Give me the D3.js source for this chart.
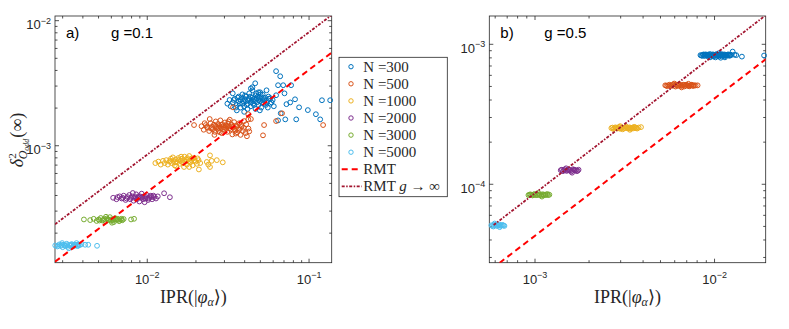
<!doctype html>
<html lang="en">
<head>
<meta charset="UTF-8">
<title>IPR vs delta</title>
<script src="https://d3js.org/d3.v7.min.js"></script>
<style>
  body { margin: 0; background: #fff; }
  .axis path { display: none; }
  .axis line { stroke: #262626; stroke-width: 0.8px; }
  .axis text { fill: #262626; font-family: "Liberation Sans", Arial, sans-serif; font-size: 13px; }
  .serif { font-family: "Liberation Serif", "DejaVu Serif", serif; fill: #262626; }
  .sans { font-family: "Liberation Sans", Arial, sans-serif; fill: #000; }
</style>
</head>
<body>
<div class="canvas"></div>
<script>
  // legend / series
  const seriesNames = ['N =300', 'N =500', 'N =1000', 'N =2000', 'N =3000', 'N =5000'];
  const seriesColors = ['#0072BD', '#D95319', '#EDB120', '#7E2F8E', '#77AC30', '#4DBEEE'];

  // panel a) g = 0.1 : [IPR, delta^2]
  const n300a = [
    [0.033,2.05e-3],[0.034,2.2e-3],[0.035,2.35e-3],[0.036,2.1e-3],[0.037,2.25e-3],[0.037,2.45e-3],[0.038,2.0e-3],
    [0.038,2.3e-3],[0.039,2.15e-3],[0.039,2.55e-3],[0.040,2.35e-3],[0.040,2.05e-3],[0.041,2.25e-3],[0.041,2.45e-3],
    [0.042,2.15e-3],[0.042,1.95e-3],[0.043,2.35e-3],[0.043,2.6e-3],[0.044,2.2e-3],[0.044,2.05e-3],[0.045,2.4e-3],
    [0.045,2.75e-3],[0.046,2.25e-3],[0.046,2.1e-3],[0.047,2.5e-3],[0.047,1.95e-3],[0.048,2.35e-3],[0.048,2.2e-3],
    [0.049,2.65e-3],[0.049,2.1e-3],[0.050,2.4e-3],[0.050,2.25e-3],[0.051,2.0e-3],[0.052,2.3e-3],[0.052,2.55e-3],
    [0.053,2.15e-3],[0.054,2.4e-3],[0.055,2.2e-3],[0.056,2.0e-3],[0.057,2.35e-3],[0.058,2.15e-3],[0.060,2.3e-3],
    [0.061,2.05e-3],[0.036,1.9e-3],[0.040,1.85e-3],[0.034,2.6e-3],[0.050,1.9e-3],[0.044,2.85e-3],
    [0.0345,2.3e-3],[0.0355,2.0e-3],[0.0365,2.4e-3],[0.0375,2.15e-3],[0.0385,2.4e-3],[0.0395,2.25e-3],
    [0.0405,2.5e-3],[0.0415,2.1e-3],[0.0425,2.3e-3],[0.0435,2.45e-3],[0.0445,2.3e-3],[0.0455,2.15e-3],
    [0.0465,2.35e-3],[0.0475,2.6e-3],[0.0485,2.45e-3],[0.0495,2.3e-3],[0.0505,2.55e-3],[0.0515,2.2e-3],
    [0.0525,2.4e-3],[0.0535,2.3e-3],[0.0545,2.1e-3],[0.0565,2.45e-3],[0.059,2.2e-3],[0.0315,2.15e-3],[0.0325,2.3e-3],
    [0.063,3.91e-3],[0.0668,3.56e-3],[0.0468,3.13e-3],[0.045,2.91e-3],[0.0648,3.02e-3],[0.0697,3.02e-3],
    [0.078,3.02e-3],[0.0502,2.65e-3],[0.0825,2.33e-3],[0.0874,2.01e-3],[0.099,1.91e-3],[0.111,1.77e-3],
    [0.118,1.61e-3],[0.121,2.29e-3],[0.136,2.29e-3],[0.0718,1.61e-3],[0.0839,1.61e-3],[0.0673,1.80e-3],
    [0.0648,1.58e-3],[0.073,2.13e-3],[0.077,2.2e-3],[0.063,2.51e-3],[0.058,2.38e-3],[0.055,2.75e-3],[0.071,2.6e-3]
  ];
  const n500a = [
    [0.0218,1.42e-3],[0.0225,1.33e-3],[0.0232,1.45e-3],[0.0238,1.38e-3],[0.0243,1.30e-3],[0.0248,1.50e-3],
    [0.0252,1.40e-3],[0.0256,1.34e-3],[0.0260,1.46e-3],[0.0264,1.28e-3],[0.0267,1.55e-3],[0.0270,1.40e-3],
    [0.0273,1.35e-3],[0.0276,1.48e-3],[0.0279,1.30e-3],[0.0282,1.43e-3],[0.0285,1.58e-3],[0.0288,1.37e-3],
    [0.0291,1.25e-3],[0.0294,1.47e-3],[0.0297,1.40e-3],[0.0300,1.33e-3],[0.0304,1.52e-3],[0.0308,1.44e-3],
    [0.0311,1.36e-3],[0.0315,1.28e-3],[0.0318,1.49e-3],[0.0322,1.41e-3],[0.0326,1.60e-3],[0.0330,1.34e-3],
    [0.0334,1.46e-3],[0.0338,1.22e-3],[0.0342,1.39e-3],[0.0347,1.53e-3],[0.0352,1.31e-3],[0.0357,1.44e-3],
    [0.0362,1.27e-3],[0.0367,1.37e-3],[0.0373,1.50e-3],[0.0380,1.21e-3],[0.0386,1.42e-3],[0.0393,1.30e-3],
    [0.0400,1.56e-3],[0.0408,1.25e-3],[0.0416,1.18e-3],[0.0425,1.36e-3],[0.0440,1.62e-3],[0.0262,1.21e-3],
    [0.0245,1.62e-3],
    [0.0235,1.4e-3],[0.0250,1.36e-3],[0.0265,1.42e-3],[0.0278,1.38e-3],[0.0290,1.45e-3],[0.0302,1.38e-3],
    [0.0313,1.42e-3],[0.0325,1.37e-3],[0.0336,1.41e-3],[0.0348,1.35e-3],[0.0360,1.40e-3],[0.0372,1.33e-3],
    [0.0384,1.45e-3],[0.0397,1.38e-3],[0.0412,1.47e-3],[0.0228,1.5e-3],[0.0283,1.27e-3],[0.0320,1.55e-3],
    [0.0355,1.24e-3],[0.0430,1.29e-3],
    [0.0196,1.45e-3],[0.0341,2.01e-3],[0.0424,1.77e-3],[0.0424,1.61e-3],[0.0531,1.45e-3],[0.0523,1.20e-3],
    [0.0630,1.56e-3],[0.0686,1.80e-3],[0.123,1.45e-3]
  ];
  const n1000a = [
    [0.0113,7.2e-4],[0.0118,7.4e-4],[0.0122,7.0e-4],[0.0126,7.5e-4],[0.0129,7.2e-4],[0.0132,7.6e-4],
    [0.0135,7.0e-4],[0.0138,7.4e-4],[0.0141,7.8e-4],[0.0143,7.2e-4],[0.0146,7.5e-4],[0.0149,6.9e-4],
    [0.0151,7.7e-4],[0.0154,7.3e-4],[0.0157,7.9e-4],[0.0160,7.1e-4],[0.0162,7.5e-4],[0.0165,7.8e-4],
    [0.0168,7.2e-4],[0.0171,8.1e-4],[0.0174,7.4e-4],[0.0177,7.0e-4],[0.0180,7.7e-4],[0.0183,8.2e-4],
    [0.0186,7.3e-4],[0.0189,7.6e-4],[0.0192,6.9e-4],[0.0196,7.9e-4],[0.0200,7.4e-4],[0.0204,7.1e-4],
    [0.0209,7.6e-4],[0.0214,7.2e-4],[0.0152,6.8e-4],[0.0170,6.7e-4],[0.0145,8.0e-4],
    [0.0140,7.5e-4],[0.0150,7.3e-4],[0.0158,7.6e-4],[0.0166,7.3e-4],[0.0175,7.7e-4],[0.0182,7.45e-4],
    [0.0190,7.85e-4],[0.0198,7.55e-4],[0.0206,7.85e-4],[0.0163,8.1e-4],[0.0178,7.9e-4],
    [0.0246,8.3e-4],[0.0252,7.5e-4],[0.0235,7.35e-4],[0.0240,7.0e-4],[0.0271,7.6e-4],[0.0295,7.3e-4],
    [0.0210,6.4e-4],[0.0183,6.7e-4],[0.0246,6.7e-4]
  ];
  const n2000a = [
    [0.0062,3.8e-4],[0.0065,3.7e-4],[0.0068,3.9e-4],[0.0070,3.75e-4],[0.0072,3.95e-4],[0.0074,3.65e-4],
    [0.0076,3.85e-4],[0.0078,4.0e-4],[0.0079,3.7e-4],[0.0081,3.9e-4],[0.0083,3.6e-4],[0.0084,3.8e-4],
    [0.0086,4.05e-4],[0.0087,3.7e-4],[0.0089,3.9e-4],[0.0090,3.55e-4],[0.0092,3.8e-4],[0.0093,4.1e-4],
    [0.0095,3.7e-4],[0.0096,3.9e-4],[0.0098,3.75e-4],[0.0100,4.0e-4],[0.0102,3.65e-4],[0.0104,3.85e-4],
    [0.0106,3.95e-4],[0.0108,3.7e-4],[0.0111,3.85e-4],[0.0114,3.75e-4],[0.0117,3.9e-4],[0.0082,4.15e-4],
    [0.0097,3.5e-4],
    [0.0066,3.85e-4],[0.0071,3.8e-4],[0.0075,3.75e-4],[0.0080,3.8e-4],[0.0085,3.85e-4],[0.0088,3.8e-4],
    [0.0091,3.9e-4],[0.0094,3.85e-4],[0.0099,3.85e-4],[0.0103,3.75e-4],[0.0107,3.85e-4],[0.0110,3.95e-4],
    [0.0128,4.13e-4],[0.0139,3.84e-4]
  ];
  const n3000a = [
    [0.00409,2.55e-4],[0.00447,2.52e-4],[0.00470,2.58e-4],[0.00490,2.48e-4],[0.00505,2.55e-4],[0.00520,2.62e-4],
    [0.00532,2.50e-4],[0.00545,2.57e-4],[0.00556,2.45e-4],[0.00568,2.60e-4],[0.00580,2.52e-4],[0.00592,2.66e-4],
    [0.00603,2.49e-4],[0.00615,2.56e-4],[0.00626,2.43e-4],[0.00638,2.61e-4],[0.00650,2.53e-4],[0.00662,2.58e-4],
    [0.00675,2.47e-4],[0.00690,2.55e-4],[0.00705,2.51e-4],[0.00720,2.57e-4],[0.00560,2.68e-4],[0.00610,2.40e-4],
    [0.00540,2.53e-4],[0.00575,2.55e-4],[0.00598,2.54e-4],[0.00620,2.52e-4],[0.00645,2.56e-4],[0.00668,2.53e-4],
    [0.00698,2.58e-4],[0.00510,2.5e-4],
    [0.00800,2.55e-4],[0.00835,2.58e-4]
  ];
  const n5000a = [
    [0.00272,1.58e-4],[0.00280,1.55e-4],[0.00288,1.61e-4],[0.00295,1.57e-4],[0.00302,1.53e-4],[0.00308,1.60e-4],
    [0.00314,1.56e-4],[0.00320,1.63e-4],[0.00326,1.54e-4],[0.00332,1.59e-4],[0.00338,1.57e-4],[0.00344,1.62e-4],
    [0.00350,1.55e-4],[0.00356,1.60e-4],[0.00362,1.58e-4],[0.00368,1.65e-4],[0.00374,1.56e-4],[0.00380,1.61e-4],
    [0.00386,1.59e-4],[0.00300,1.65e-4],[0.00330,1.50e-4],[0.00395,1.62e-4],
    [0.00285,1.57e-4],[0.00298,1.60e-4],[0.00311,1.58e-4],[0.00323,1.59e-4],[0.00341,1.6e-4],[0.00353,1.58e-4],
    [0.00365,1.6e-4],[0.00377,1.59e-4],
    [0.00416,1.60e-4],[0.00435,1.60e-4],[0.00493,1.57e-4]
  ];
  const rmtA = [[2.71e-3, 1.17e-4], [0.139, 5.5e-3]];
  const rmtInfA = [[2.71e-3, 2.33e-4], [0.139, 1.1e-2]];

  // panel b) g = 0.5
  const n300b = [
    [0.00840,8.3e-4],[0.00860,8.2e-4],[0.00875,8.4e-4],[0.00890,8.25e-4],[0.00905,8.35e-4],[0.00920,8.15e-4],
    [0.00935,8.3e-4],[0.00950,8.45e-4],[0.00965,8.2e-4],[0.00980,8.35e-4],[0.00995,8.1e-4],[0.01010,8.3e-4],
    [0.01025,8.4e-4],[0.01040,8.2e-4],[0.01055,8.35e-4],[0.01070,8.1e-4],[0.01085,8.3e-4],[0.01100,8.45e-4],
    [0.01115,8.2e-4],[0.01130,8.3e-4],[0.01145,8.15e-4],[0.01160,8.35e-4],[0.01180,8.25e-4],[0.01200,8.4e-4],
    [0.01220,8.2e-4],[0.01245,8.3e-4],[0.01270,8.8e-4],[0.01300,8.35e-4],[0.01330,8.3e-4],[0.01020,8.0e-4],
    [0.01090,7.95e-4],[0.00950,8.0e-4],[0.01150,8.0e-4],[0.01060,8.55e-4],
    [0.00850,8.25e-4],[0.00868,8.35e-4],[0.00883,8.2e-4],[0.00898,8.4e-4],[0.00912,8.28e-4],[0.00928,8.38e-4],
    [0.00943,8.22e-4],[0.00958,8.32e-4],[0.00972,8.26e-4],[0.00988,8.4e-4],[0.01003,8.22e-4],[0.01018,8.36e-4],
    [0.01033,8.26e-4],[0.01048,8.4e-4],[0.01063,8.22e-4],[0.01078,8.38e-4],[0.01093,8.25e-4],[0.01108,8.35e-4],
    [0.01123,8.27e-4],[0.01138,8.4e-4],[0.01153,8.25e-4],[0.01170,8.3e-4],[0.01190,8.35e-4],[0.01210,8.28e-4],
    [0.01235,8.38e-4],
    [0.01430,8.1e-4],[0.01900,8.25e-4]
  ];
  const n500b = [
    [0.00535,5.05e-4],[0.00550,4.98e-4],[0.00565,5.1e-4],[0.00580,5.0e-4],[0.00595,5.12e-4],[0.00610,4.95e-4],
    [0.00625,5.06e-4],[0.00640,5.14e-4],[0.00655,5.0e-4],[0.00670,5.08e-4],[0.00685,4.96e-4],[0.00700,5.1e-4],
    [0.00715,5.03e-4],[0.00730,4.97e-4],[0.00745,5.08e-4],[0.00760,5.02e-4],[0.00775,5.06e-4],[0.00790,5.04e-4],
    [0.00810,5.05e-4],[0.00600,5.2e-4],[0.00660,4.88e-4],[0.00720,5.18e-4],
    [0.00542,5.02e-4],[0.00558,5.06e-4],[0.00572,5.03e-4],[0.00588,5.08e-4],[0.00603,5.02e-4],[0.00618,5.1e-4],
    [0.00632,5.0e-4],[0.00648,5.07e-4],[0.00662,5.03e-4],[0.00678,5.1e-4],[0.00692,5.02e-4],[0.00708,5.06e-4],
    [0.00722,5.0e-4],[0.00738,5.05e-4],[0.00752,5.1e-4],[0.00768,5.0e-4]
  ];
  const n1000b = [
    [0.00268,2.5e-4],[0.00275,2.46e-4],[0.00282,2.53e-4],[0.00289,2.48e-4],[0.00296,2.55e-4],[0.00303,2.5e-4],
    [0.00310,2.45e-4],[0.00317,2.52e-4],[0.00324,2.56e-4],[0.00331,2.49e-4],[0.00338,2.53e-4],[0.00345,2.47e-4],
    [0.00352,2.52e-4],[0.00359,2.55e-4],[0.00366,2.5e-4],[0.00373,2.48e-4],[0.00380,2.52e-4],[0.00392,2.54e-4],
    [0.00300,2.58e-4],[0.00340,2.43e-4],
    [0.00272,2.52e-4],[0.00279,2.49e-4],[0.00286,2.51e-4],[0.00293,2.5e-4],[0.00300,2.47e-4],[0.00307,2.53e-4],
    [0.00314,2.49e-4],[0.00321,2.5e-4],[0.00328,2.52e-4],[0.00335,2.48e-4],[0.00342,2.51e-4],[0.00349,2.5e-4],
    [0.00356,2.49e-4],[0.00363,2.53e-4],[0.00370,2.51e-4]
  ];
  const n2000b = [
    [0.00140,1.25e-4],[0.00144,1.23e-4],[0.00148,1.27e-4],[0.00152,1.24e-4],[0.00156,1.26e-4],[0.00160,1.22e-4],
    [0.00164,1.27e-4],[0.00168,1.25e-4],[0.00172,1.23e-4],[0.00176,1.26e-4],[0.00150,1.29e-4],[0.00162,1.2e-4],
    [0.00142,1.26e-4],[0.00146,1.25e-4],[0.00150,1.24e-4],[0.00154,1.26e-4],[0.00158,1.25e-4],[0.00162,1.24e-4],
    [0.00166,1.26e-4],[0.00170,1.25e-4],[0.00174,1.24e-4]
  ];
  const n3000b = [
    [0.000925,8.3e-5],[0.000950,8.4e-5],[0.000975,8.25e-5],[0.00100,8.45e-5],[0.00103,8.3e-5],[0.00106,8.4e-5],
    [0.00109,8.25e-5],[0.00112,8.4e-5],[0.00115,8.3e-5],[0.00118,8.45e-5],[0.00121,8.35e-5],[0.00105,8.6e-5],
    [0.00110,8.1e-5],
    [0.000938,8.35e-5],[0.000962,8.3e-5],[0.000988,8.35e-5],[0.00101,8.3e-5],[0.00104,8.35e-5],[0.00107,8.3e-5],
    [0.00110,8.4e-5],[0.00113,8.3e-5],[0.00116,8.38e-5],[0.00119,8.3e-5]
  ];
  const n5000b = [
    [0.000575,5.05e-5],[0.000590,4.95e-5],[0.000605,5.1e-5],[0.000620,5.0e-5],[0.000635,5.12e-5],
    [0.000650,5.02e-5],[0.000665,5.08e-5],[0.000680,5.0e-5],[0.000600,5.2e-5],[0.000640,4.9e-5],
    [0.000582,5.0e-5],[0.000597,5.08e-5],[0.000612,5.03e-5],[0.000627,5.06e-5],[0.000642,5.02e-5],
    [0.000657,5.06e-5],[0.000672,5.03e-5]
  ];
  const rmtB = [[6.38e-4, 2.72e-5], [0.0194, 7.75e-4]];
  const rmtInfB = [[5.92e-4, 5.07e-5], [0.0194, 1.6e-3]];

  // axes limits and major ticks
  const xDomainA = [2.71e-3, 0.139], yDomainA = [1.15e-4, 1.08e-2];
  const xDomainB = [5.6e-4, 0.0194], yDomainB = [2.73e-5, 1.58e-3];
  const xMajorA = [1e-2, 1e-1], yMajorA = [1e-3, 1e-2];
  const xMajorB = [1e-3, 1e-2], yMajorB = [1e-4, 1e-3];

  const svg = d3.select('.canvas')
    .append('svg')
    .attr('width', 789)
    .attr('height', 329)
    .style('background', '#fff');

  const isMajor = v => Math.abs(Math.log10(v) - Math.round(Math.log10(v))) < 1e-6;

  function powLabel(sel) {
    sel.each(function (d) {
      const t = d3.select(this);
      t.append('tspan').text('10');
      t.append('tspan').attr('font-size', '9px').attr('dy', -5.5)
        .text('\u2212' + Math.abs(Math.round(Math.log10(d))));
    });
  }

  function drawPanel(p) {
    const g = svg.append('g').attr('transform', `translate(${p.left},${p.top})`);
    const x = d3.scaleLog().domain(p.xDomain).range([0, p.width]);
    const y = d3.scaleLog().domain(p.yDomain).range([p.height, 0]);

    g.append('clipPath').attr('id', 'clip-' + p.id)
      .append('rect').attr('width', p.width).attr('height', p.height);

    const xMinor = x.ticks().filter(v => !isMajor(v));
    const yMinor = y.ticks().filter(v => !isMajor(v));

    // minor ticks on all four sides
    g.append('g').attr('class', 'axis').attr('transform', `translate(0,${p.height})`)
      .call(d3.axisBottom(x).tickValues(xMinor).tickSize(-2.5).tickSizeOuter(0).tickFormat(''));
    g.append('g').attr('class', 'axis')
      .call(d3.axisTop(x).tickValues(xMinor).tickSize(-2.5).tickSizeOuter(0).tickFormat(''));
    g.append('g').attr('class', 'axis')
      .call(d3.axisLeft(y).tickValues(yMinor).tickSize(-2.5).tickSizeOuter(0).tickFormat(''));
    g.append('g').attr('class', 'axis').attr('transform', `translate(${p.width},0)`)
      .call(d3.axisRight(y).tickValues(yMinor).tickSize(-2.5).tickSizeOuter(0).tickFormat(''));

    // major ticks
    g.append('g').attr('class', 'axis').attr('transform', `translate(0,${p.height})`)
      .call(d3.axisBottom(x).tickValues(p.xMajor).tickSize(-4).tickSizeOuter(0).tickPadding(12).tickFormat(''))
      .selectAll('.tick text').call(powLabel);
    g.append('g').attr('class', 'axis')
      .call(d3.axisTop(x).tickValues(p.xMajor).tickSize(-4).tickSizeOuter(0).tickFormat(''));
    g.append('g').attr('class', 'axis')
      .call(d3.axisLeft(y).tickValues(p.yMajor).tickSize(-4).tickSizeOuter(0).tickPadding(4).tickFormat(''))
      .selectAll('.tick text').attr('dy', 8.5).call(powLabel);
    g.append('g').attr('class', 'axis').attr('transform', `translate(${p.width},0)`)
      .call(d3.axisRight(y).tickValues(p.yMajor).tickSize(-4).tickSizeOuter(0).tickFormat(''));

    // box
    g.append('rect')
      .attr('width', p.width).attr('height', p.height)
      .attr('fill', 'none').attr('stroke', '#262626').attr('stroke-width', 0.8);

    // scatter series
    p.series.forEach((pts, i) => {
      g.append('g').selectAll('circle')
        .data(pts)
        .join('circle')
        .attr('cx', d => x(d[0]))
        .attr('cy', d => y(d[1]))
        .attr('r', 2.4)
        .attr('fill', 'none')
        .attr('stroke', seriesColors[i])
        .attr('stroke-width', 1);
    });

    const line = d3.line().x(d => x(d[0])).y(d => y(d[1]));
    g.append('path').datum(p.rmt)
      .attr('d', line)
      .attr('clip-path', `url(#clip-${p.id})`)
      .attr('fill', 'none').attr('stroke', '#FF0000').attr('stroke-width', 2)
      .attr('stroke-dasharray', '6,4');
    g.append('path').datum(p.rmtInf)
      .attr('d', line)
      .attr('clip-path', `url(#clip-${p.id})`)
      .attr('fill', 'none').attr('stroke', '#A2142F').attr('stroke-width', 1.8)
      .attr('stroke-dasharray', '3,1.5,1.5,1.5');

    // panel texts
    g.append('text').attr('class', 'sans').attr('x', 11).attr('y', 22)
      .attr('font-size', '15px').text(p.tag);
    g.append('text').attr('class', 'sans').attr('x', p.gx).attr('y', 22)
      .attr('font-size', '15px').text(p.gText);

    // x label
    const xl = g.append('text').attr('class', 'serif')
      .attr('x', p.width / 2).attr('y', 40)
      .attr('text-anchor', 'middle').attr('font-size', '18px');
    xl.append('tspan').text('IPR(|');
    xl.append('tspan').attr('font-style', 'italic').text('\u03C6');
    xl.append('tspan').attr('font-style', 'italic').attr('font-size', '12px').attr('dy', 3).text('\u03B1');
    xl.append('tspan').attr('dy', -3).text('\u27E9)');
    xl.attr('transform', `translate(0,${p.height})`);

    return g;
  }

  drawPanel({
    id: 'a', left: 55, top: 16, width: 276.7, height: 246.7,
    xDomain: xDomainA, yDomain: yDomainA, xMajor: xMajorA, yMajor: yMajorA,
    series: [n300a, n500a, n1000a, n2000a, n3000a, n5000a],
    rmt: rmtA, rmtInf: rmtInfA, tag: 'a)', gText: 'g =0.1', gx: 56
  });
  drawPanel({
    id: 'b', left: 489.3, top: 16, width: 276.4, height: 246.7,
    xDomain: xDomainB, yDomain: yDomainB, xMajor: xMajorB, yMajor: yMajorB,
    series: [n300b, n500b, n1000b, n2000b, n3000b, n5000b],
    rmt: rmtB, rmtInf: rmtInfB, tag: 'b)', gText: 'g =0.5', gx: 55
  });

  // y label of panel a
  const yl = svg.append('text').attr('class', 'serif')
    .attr('transform', 'translate(23,140) rotate(-90)')
    .attr('text-anchor', 'middle').attr('font-size', '18px');
  yl.append('tspan').attr('font-style', 'italic').text('\u03B4');
  yl.append('tspan').attr('font-size', '11px').attr('dy', -7).text('2');
  yl.append('tspan').attr('font-size', '12px').attr('font-style', 'italic').attr('dx', -6).attr('dy', 11).text('O');
  yl.append('tspan').attr('font-size', '8px').attr('font-style', 'italic').attr('dy', 2).text('odd');
  yl.append('tspan').attr('dy', -6).attr('dx', 1).text('(\u221E)');

  // legend
  const legend = svg.append('g').attr('transform', 'translate(339,57.3)');
  legend.append('rect').attr('width', 108.3).attr('height', 139.4)
    .attr('fill', '#fff').attr('stroke', '#262626').attr('stroke-width', 0.8);
  const rowY = i => 9.4 + i * 17.1;
  seriesNames.forEach((name, i) => {
    legend.append('circle').attr('cx', 12).attr('cy', rowY(i)).attr('r', 2.2)
      .attr('fill', 'none').attr('stroke', seriesColors[i]).attr('stroke-width', 1);
    legend.append('text').attr('class', 'serif').attr('x', 24.3).attr('y', rowY(i) + 5)
      .attr('font-size', '15px').text(name);
  });
  legend.append('line').attr('x1', 2.7).attr('x2', 22.7).attr('y1', rowY(6)).attr('y2', rowY(6))
    .attr('stroke', '#FF0000').attr('stroke-width', 2).attr('stroke-dasharray', '6,4');
  legend.append('text').attr('class', 'serif').attr('x', 24.3).attr('y', rowY(6) + 5)
    .attr('font-size', '15px').text('RMT');
  legend.append('line').attr('x1', 2.7).attr('x2', 22.7).attr('y1', rowY(7)).attr('y2', rowY(7))
    .attr('stroke', '#A2142F').attr('stroke-width', 1.8).attr('stroke-dasharray', '3,1.5,1.5,1.5');
  const lt = legend.append('text').attr('class', 'serif').attr('x', 24.3).attr('y', rowY(7) + 5)
    .attr('font-size', '15px');
  lt.append('tspan').text('RMT ');
  lt.append('tspan').attr('font-style', 'italic').text('g');
  lt.append('tspan').text(' \u2192 \u221E');
</script>
</body>
</html>
